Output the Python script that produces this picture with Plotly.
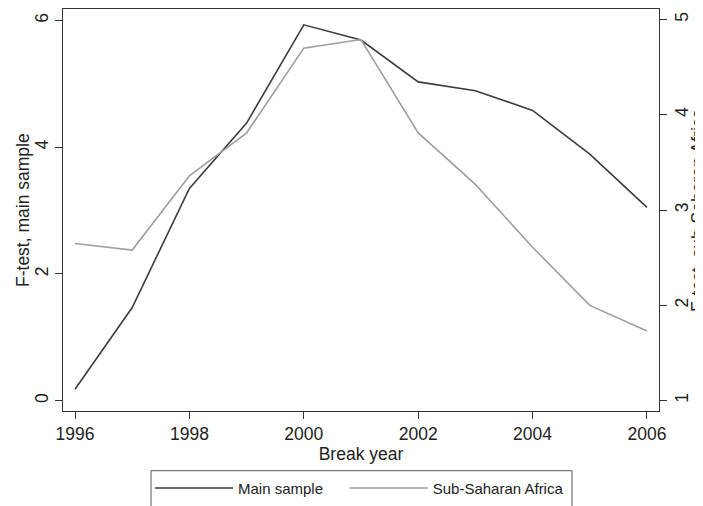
import plotly.graph_objects as go

years = [1996, 1997, 1998, 1999, 2000, 2001, 2002, 2003, 2004, 2005, 2006]
main_sample = [0.18, 1.47, 3.35, 4.38, 5.93, 5.69, 5.03, 4.89, 4.58, 3.89, 3.05]
ssa = [2.65, 2.58, 3.36, 3.81, 4.70, 4.79, 3.81, 3.27, 2.61, 2.00, 1.73]

x_ticks = [1996, 1998, 2000, 2002, 2004, 2006]
left_ticks = [0, 2, 4, 6]
right_ticks = [1, 2, 3, 4, 5]

FONT = "Liberation Sans, Arial, Helvetica, sans-serif"
AXC = "#333333"

# page has an 8px body margin; plot area should span x 63..659, y 9..413 in page pixels
PW, PH = 596, 404


def px_x(p):
    return (p - 63) / PW


def px_y(p):
    return (413 - p) / PH


PAD = "\u00a0" * 4  # extra spacing between the two legend entries

fig = go.Figure()
fig.add_trace(go.Scatter(x=years, y=main_sample, mode="lines", name="Main sample" + PAD,
                         line=dict(color="#3c3c3c", width=1.6), yaxis="y"))
fig.add_trace(go.Scatter(x=years, y=ssa, mode="lines", name="Sub-Saharan Africa",
                         line=dict(color="#9e9e9e", width=1.6), yaxis="y2"))

fig.update_layout(
    width=695, height=498,
    margin=dict(l=55, r=44, t=1, b=93),
    paper_bgcolor="white", plot_bgcolor="white",
    font=dict(family=FONT, size=17.5, color="#222222"),
    showlegend=True,
    xaxis=dict(range=[1995.79, 2006.21], tickvals=x_ticks, ticks="outside", ticklen=7,
               tickcolor=AXC, showline=True, linecolor=AXC, linewidth=1.3, mirror=True,
               showgrid=False, zeroline=False,
               title=dict(text="Break year", standoff=0, font=dict(size=17.5))),
    yaxis=dict(range=[-0.163, 6.18], tickvals=left_ticks, ticks="outside", ticklen=7,
               tickcolor=AXC, showline=True, linecolor=AXC, linewidth=1.3,
               showgrid=False, zeroline=False, tickangle=-90),
    yaxis2=dict(range=[0.891, 5.111], tickvals=right_ticks, ticks="outside", ticklen=7,
                tickcolor=AXC, showline=True, linecolor=AXC, linewidth=1.3,
                overlaying="y", side="right", showgrid=False, zeroline=False,
                tickangle=-90),
    legend=dict(orientation="h", x=px_x(150), xanchor="left", y=px_y(474), yanchor="top",
                bgcolor="rgba(0,0,0,0)", borderwidth=0, font=dict(size=15),
                itemwidth=78),
    shapes=[
        dict(type="rect", xref="paper", yref="paper",
             x0=px_x(151), x1=px_x(572), y0=px_y(520), y1=px_y(473),
             line=dict(color="#555555", width=1), fillcolor="rgba(0,0,0,0)", layer="below"),
    ],
    annotations=[
        dict(text="F-test, sub-Saharan Africa", xref="paper", yref="paper",
             x=px_x(698), y=0.5, textangle=-90, showarrow=False,
             xanchor="center", yanchor="middle", font=dict(size=17.5)),
        dict(text="F-test, main sample", xref="paper", yref="paper",
             x=px_x(23), y=0.5, textangle=-90, showarrow=False,
             xanchor="center", yanchor="middle", font=dict(size=17.5)),
    ],
)

fig.write_html("out.html")
